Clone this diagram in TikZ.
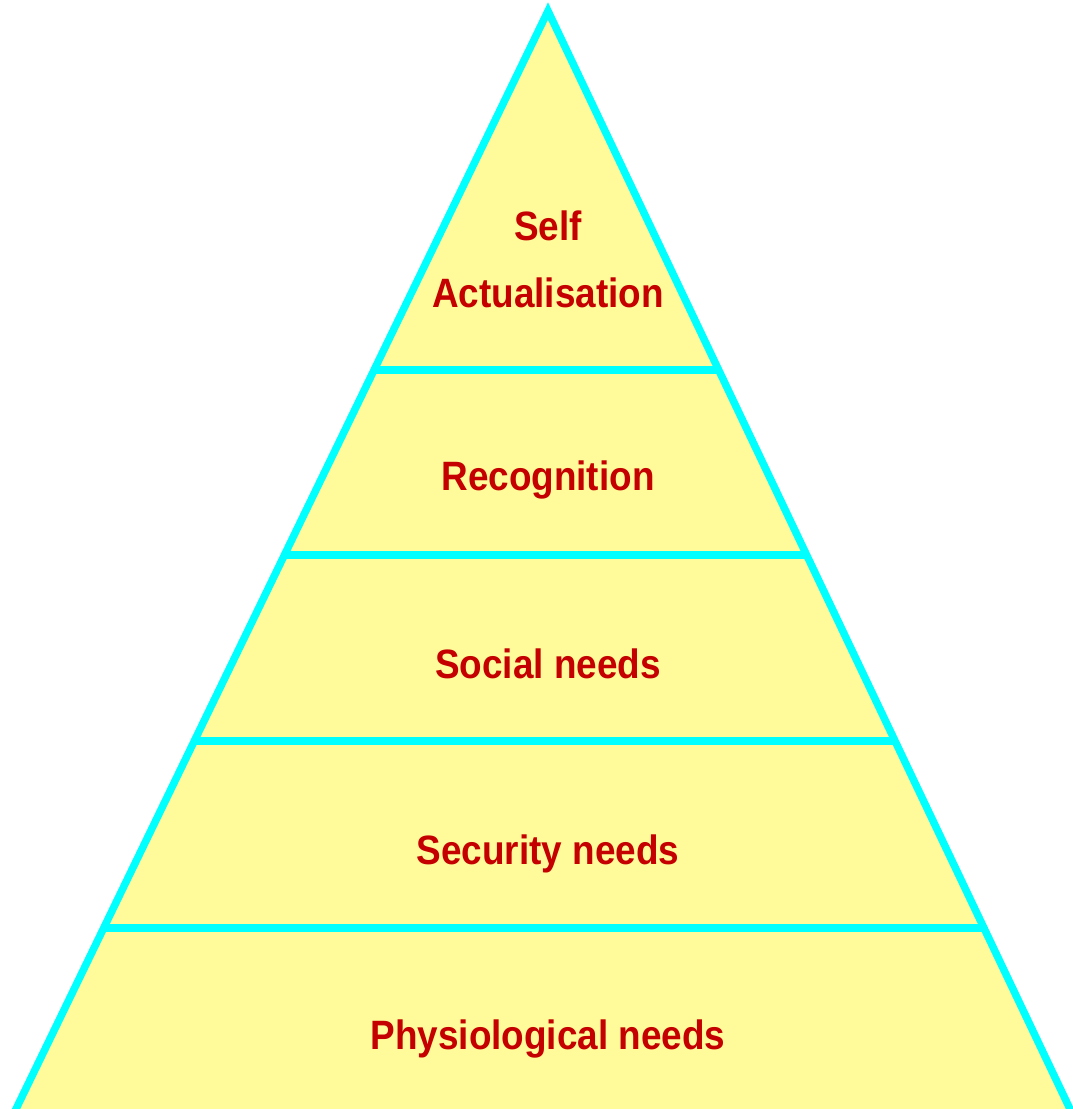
\documentclass[tikz,border=0pt]{standalone}
\usepackage{fontspec}
\setmainfont{Liberation Sans}[FakeStretch=0.9]
\usetikzlibrary{calc}
\definecolor{pyrfill}{HTML}{FFFB9A}
\definecolor{pyredge}{HTML}{00FFFF}
\definecolor{pyrtext}{HTML}{C40000}
\tikzset{
  pyredgeline/.style={draw=pyredge, line width=7.5pt, line join=miter},
  divider/.style={draw=pyredge, line width=7.5pt},
  pyrlabel/.style={text=pyrtext, font=\fontsize{41}{67}\selectfont\bfseries, align=center, inner sep=0pt, anchor=base}
}
\begin{document}
\begin{tikzpicture}[x=1pt,y=-1pt]
\useasboundingbox (0,0) rectangle (1073,1109);
\clip (0,0) rectangle (1073,1109);
\coordinate (apex) at (548,11);
\coordinate (bl) at (16,1109);
\coordinate (br) at (1070,1109);
\coordinate (blx) at ($(apex)!1.03!(bl)$);
\coordinate (brx) at ($(apex)!1.03!(br)$);
\fill[pyrfill] (apex) -- (blx) -- (brx) -- cycle;
\foreach \i/\t in {1/0.327,2/0.4954,3/0.6648,4/0.8352}{
  \coordinate (L\i) at ($(apex)!\t!(bl)$);
  \coordinate (R\i) at ($(apex)!\t!(br)$);
  \draw[divider] (L\i) -- (R\i);
}
\draw[pyredgeline] (blx) -- (apex) -- (brx);
\node[pyrlabel] (self) at (548,307) {Self\\Actualisation};
\node[pyrlabel] (rec) at (548,490) {Recognition};
\node[pyrlabel] (soc) at (548,678) {Social needs};
\node[pyrlabel] (sec) at (548,864) {Security needs};
\node[pyrlabel] (phy) at (548,1049) {Physiological needs};
\end{tikzpicture}
\end{document}
